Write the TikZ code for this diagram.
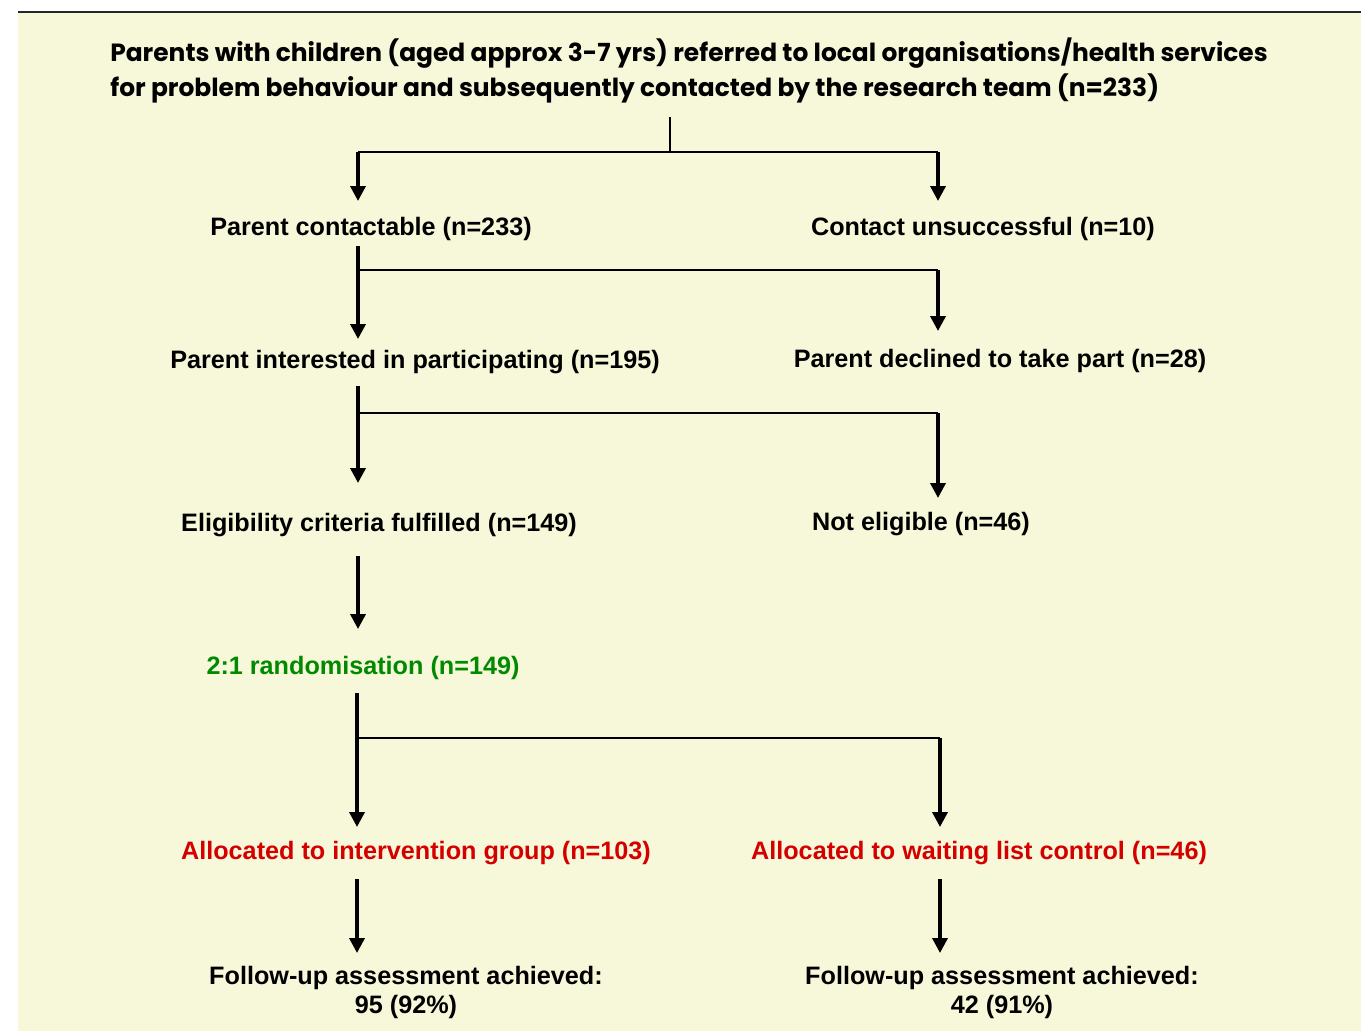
\documentclass[tikz,border=0pt]{standalone}
\usepackage{fontspec}
\setmainfont{Liberation Sans}
\newfontfamily\titlefont{Poppins}
\usetikzlibrary{arrows.meta}
\definecolor{bgyellow}{HTML}{F7F7D9}
\definecolor{rgreen}{HTML}{008A00}
\definecolor{rred}{HTML}{D40000}
\tikzset{
  lbl/.style={inner sep=0pt, font=\fontsize{25.2}{29}\selectfont\bfseries, align=center},
  ttl/.style={inner sep=0pt, font=\titlefont\fontsize{24.9}{35}\selectfont\bfseries, align=left},
  arr/.style={line width=3.5pt, -{Triangle[length=15pt,width=15pt]}},
  branch/.style={line width=2pt},
}
\begin{document}
\begin{tikzpicture}[x=1pt,y=-1pt]
\useasboundingbox (0,0) rectangle (1361,1031);
\fill[bgyellow] (18,12) rectangle (1361,1031);
\draw[line width=1.5pt, black!85] (18,12) -- (1361,12);

\node[ttl] (title) at (689,70) {Parents with children (aged approx 3-7 yrs) referred to local organisations/health services\\for problem behaviour and subsequently contacted by the research team (n=233)};

\node[lbl] (pc) at (371,229) {Parent contactable (n=233)};
\node[lbl] (cu) at (983,229) {Contact unsuccessful (n=10)};
\node[lbl] (pi) at (415,362) {Parent interested in participating (n=195)};
\node[lbl] (pd) at (1000,361) {Parent declined to take part (n=28)};
\node[lbl] (ec) at (379,525) {Eligibility criteria fulfilled (n=149)};
\node[lbl] (ne) at (921,524) {Not eligible (n=46)};
\node[lbl, text=rgreen] (rd) at (363,668) {2:1 randomisation (n=149)};
\node[lbl, text=rred] (ig) at (416,853) {Allocated to intervention group (n=103)};
\node[lbl, text=rred] (wl) at (979,853) {Allocated to waiting list control (n=46)};
\node[lbl] (fi) at (406,992) {Follow-up assessment achieved:\\95 (92\%)};
\node[lbl] (fw) at (1002,992) {Follow-up assessment achieved:\\42 (91\%)};

% level 1
\coordinate (t0) at (670,117);
\coordinate (t1) at (670,152);
\coordinate (l1) at (358,152);
\coordinate (r1) at (938,152);
\coordinate (l1e) at (358,201);
\coordinate (r1e) at (938,201);
\draw[branch] (t0) -- (t1);
\draw[branch] (l1) -- (r1);
\draw[arr] (l1) -- (l1e);
\draw[arr] (r1) -- (r1e);

% level 2
\coordinate (s2) at (358,246);
\coordinate (b2) at (358,270);
\coordinate (r2) at (938,270);
\coordinate (l2e) at (358,339);
\coordinate (r2e) at (938,331);
\draw[arr] (s2) -- (l2e);
\draw[branch] (b2) -- (r2);
\draw[arr] (r2) -- (r2e);

% level 3
\coordinate (s3) at (358,386);
\coordinate (b3) at (358,413);
\coordinate (r3) at (938,413);
\coordinate (l3e) at (358,483);
\coordinate (r3e) at (938,498);
\draw[arr] (s3) -- (l3e);
\draw[branch] (b3) -- (r3);
\draw[arr] (r3) -- (r3e);

% level 4
\coordinate (s4) at (358,556);
\coordinate (l4e) at (358,629);
\draw[arr] (s4) -- (l4e);

% level 5
\coordinate (s5) at (357,693);
\coordinate (b5) at (357,738);
\coordinate (r5) at (940,738);
\coordinate (l5e) at (357,827);
\coordinate (r5e) at (940,827);
\draw[arr] (s5) -- (l5e);
\draw[branch] (b5) -- (r5);
\draw[arr] (r5) -- (r5e);

% level 6
\coordinate (s6l) at (357,879);
\coordinate (s6r) at (940,879);
\coordinate (l6e) at (357,953);
\coordinate (r6e) at (940,953);
\draw[arr] (s6l) -- (l6e);
\draw[arr] (s6r) -- (r6e);
\end{tikzpicture}
\end{document}
